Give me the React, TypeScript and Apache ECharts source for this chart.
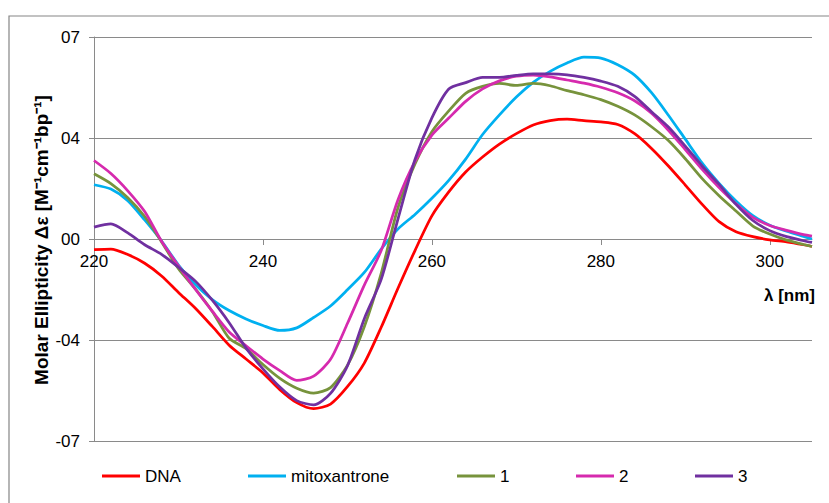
import React, { useEffect, useRef } from 'react';
import * as echarts from 'echarts';

const wavelengths = [220, 222, 224, 226, 228, 230, 232, 234, 236, 238, 240, 242, 244, 246, 248, 250, 252, 254, 256, 258, 260, 262, 264, 266, 268, 270, 272, 274, 276, 278, 280, 282, 284, 286, 288, 290, 292, 294, 296, 298, 300, 302, 304, 305];

const dna = [-0.37, -0.35, -0.54, -0.84, -1.28, -1.85, -2.4, -3.03, -3.68, -4.16, -4.64, -5.22, -5.67, -5.88, -5.72, -5.12, -4.3, -3.06, -1.7, -0.4, 0.8, 1.63, 2.32, 2.84, 3.29, 3.65, 3.95, 4.1, 4.15, 4.1, 4.06, 3.97, 3.65, 3.14, 2.53, 1.87, 1.2, 0.6, 0.25, 0.08, -0.03, -0.1, -0.2, -0.26];

const mitoxantrone = [1.88, 1.73, 1.33, 0.66, -0.07, -0.9, -1.58, -2.1, -2.48, -2.77, -3.0, -3.17, -3.08, -2.72, -2.32, -1.76, -1.16, -0.35, 0.35, 0.85, 1.41, 2.03, 2.77, 3.62, 4.3, 4.92, 5.43, 5.81, 6.1, 6.3, 6.27, 6.04, 5.68, 5.07, 4.29, 3.46, 2.63, 1.93, 1.32, 0.81, 0.48, 0.27, 0.09, 0.0];

const compound1 = [2.26, 1.92, 1.43, 0.78, -0.1, -1.03, -1.73, -2.51, -3.44, -3.8, -4.35, -4.83, -5.17, -5.34, -5.15, -4.38, -3.04, -1.19, 1.1, 2.6, 3.72, 4.44, 5.05, 5.29, 5.39, 5.32, 5.39, 5.31, 5.14, 5.0, 4.83, 4.6, 4.3, 3.89, 3.41, 2.78, 2.09, 1.5, 0.97, 0.45, 0.17, -0.04, -0.19, -0.26];

const compound2 = [2.72, 2.27, 1.67, 0.95, -0.08, -0.93, -1.74, -2.5, -3.22, -3.7, -4.16, -4.56, -4.9, -4.75, -4.17, -2.93, -1.6, -0.4, 1.37, 2.69, 3.6, 4.19, 4.77, 5.2, 5.48, 5.64, 5.68, 5.62, 5.51, 5.4, 5.26, 5.07, 4.79, 4.36, 3.77, 3.1, 2.41, 1.78, 1.22, 0.75, 0.47, 0.3, 0.15, 0.1];

const compound3 = [0.41, 0.52, 0.21, -0.2, -0.53, -0.98, -1.46, -2.12, -2.9, -3.78, -4.5, -5.13, -5.6, -5.75, -5.35, -4.4, -2.76, -1.4, 0.71, 2.76, 4.2, 5.2, 5.42, 5.6, 5.6, 5.67, 5.72, 5.72, 5.69, 5.6, 5.47, 5.29, 4.94, 4.41, 3.88, 3.22, 2.53, 1.89, 1.2, 0.64, 0.29, 0.08, -0.06, -0.12];

const seriesNames = ['DNA', 'mitoxantrone', '1', '2', '3'];
const seriesValues = [dna, mitoxantrone, compound1, compound2, compound3];
const seriesColors = ['#FF0000', '#00B0F0', '#77933C', '#D62AAE', '#7030A0'];

const xTicks = [220, 240, 260, 280, 300];
const yTickValues = [-7, -3.5, 0, 3.5, 7];
const yTickLabels = ['-07', '-04', '00', '04', '07'];

const yTitle = 'Molar Ellipticity \u0394\u03b5 [M\u207b\u00b9cm\u207b\u00b9bp\u207b\u00b9]';
const xTitle = '\u03bb [nm]';

const FONT = '"Liberation Sans", Arial, sans-serif';
const GRID_COLOR = '#8a8a8a';

export default function App() {
  const ref = useRef<HTMLDivElement>(null);

  useEffect(() => {
    if (!ref.current) return;
    const chart = echarts.init(ref.current, null, { renderer: 'svg' });
    const legendLefts = [102, 248, 457, 576, 695];
    const gridTop = 37;
    const gridBottom = 62;
    const plotHeight = 503 - gridTop - gridBottom;

    const option: any = {
      animation: false,
      backgroundColor: '#ffffff',
      textStyle: { fontFamily: FONT },
      grid: { left: 94, right: 17, top: gridTop, bottom: gridBottom, containLabel: false },
      xAxis: {
        type: 'value',
        min: 220,
        max: 305,
        interval: 20,
        position: 'bottom',
        offset: -plotHeight / 2,
        axisLine: { show: true, onZero: false, lineStyle: { color: GRID_COLOR, width: 1 } },
        axisTick: { show: true, length: 6, lineStyle: { color: GRID_COLOR }, customValues: xTicks },
        axisLabel: {
          customValues: xTicks,
          color: '#000',
          fontSize: 17,
          fontFamily: FONT,
          margin: 14,
        },
        splitLine: { show: false },
      },
      yAxis: {
        type: 'value',
        min: -7,
        max: 7,
        interval: 3.5,
        axisLine: { show: true, lineStyle: { color: GRID_COLOR, width: 1 } },
        axisTick: { show: true, length: 5, lineStyle: { color: GRID_COLOR } },
        axisLabel: {
          color: '#000',
          fontSize: 17,
          fontFamily: FONT,
          margin: 14,
          formatter: (v: number) => {
            const i = yTickValues.indexOf(v);
            return i >= 0 ? yTickLabels[i] : '';
          },
        },
        splitLine: { show: true, lineStyle: { color: GRID_COLOR, width: 1 } },
      },
      legend: seriesNames.map((name, i) => ({
        data: [name],
        left: legendLefts[i],
        top: 467,
        icon: 'rect',
        itemWidth: 38,
        itemHeight: 3,
        padding: 0,
        textStyle: { fontSize: 17, color: '#000', fontFamily: FONT, lineHeight: 18 },
        selectedMode: false,
      })),
      series: seriesNames.map((name, i) => ({
        name,
        type: 'line',
        showSymbol: false,
        smooth: 0.25,
        color: seriesColors[i],
        lineStyle: { width: 2.75, color: seriesColors[i] },
        data: wavelengths.map((w, k) => [w, seriesValues[i][k]]),
      })),
      graphic: [
        {
          type: 'rect',
          shape: { x: 9, y: 16, width: 900, height: 600 },
          style: { fill: 'none', stroke: '#858585', lineWidth: 1.2 },
          silent: true,
        },
        {
          type: 'text',
          x: 41,
          y: 240,
          rotation: Math.PI / 2,
          style: {
            text: yTitle,
            font: 'bold 19px ' + FONT,
            fill: '#000',
            textAlign: 'center',
            textVerticalAlign: 'middle',
          },
        },
        {
          type: 'text',
          x: 815,
          y: 295,
          style: {
            text: xTitle,
            font: 'bold 17px ' + FONT,
            fill: '#000',
            textAlign: 'right',
            textVerticalAlign: 'middle',
          },
        },
      ],
    };

    chart.setOption(option);
    return () => chart.dispose();
  }, []);

  return (
    <div
      ref={ref}
      style={{ position: 'fixed', left: 0, top: 0, width: 829, height: 503 }}
    />
  );
}
